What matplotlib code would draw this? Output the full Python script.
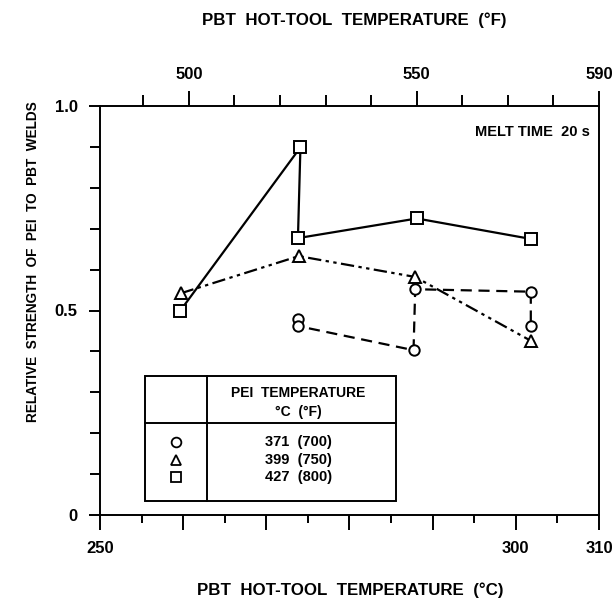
import matplotlib
matplotlib.use("Agg")
import matplotlib.pyplot as plt
from matplotlib.patches import Rectangle
from matplotlib.lines import Line2D
from matplotlib.ticker import FixedLocator, FuncFormatter

plt.rcParams.update({"font.family": ["Liberation Sans", "DejaVu Sans"], "font.size": 10,
                     "font.weight": "bold"})

# PBT hot-tool temperature (degC) and relative weld strength, per PEI temperature
circ_T = [273.8, 273.8, 287.7, 287.9, 301.8, 301.8]
circ_v = [0.478, 0.462, 0.403, 0.552, 0.546, 0.462]
tri_T = [259.7, 273.9, 287.9, 301.8]
tri_v = [0.542, 0.633, 0.582, 0.426]
sq_T = [259.6, 274.1, 273.8, 288.1, 301.8]
sq_v = [0.498, 0.899, 0.677, 0.725, 0.675]

legend_rows = ["371  (700)", "399  (750)", "427  (800)"]
bottom_labels = [250, 300, 310]
top_labels = [500, 550, 590]

fig = plt.figure(figsize=(6.16, 6.03), dpi=100)
ax = fig.add_axes([100 / 616, 88 / 603, 499 / 616, 409 / 603])

mk = dict(mfc="white", mec="black", mew=1.4, color="black", lw=1.6, clip_on=False)
ax.plot(circ_T, circ_v, marker="o", ms=7.5, ls=(0, (5, 3)), **mk)
ax.plot(tri_T, tri_v, marker="^", ms=9, ls=(0, (6, 2, 1.5, 2, 1.5, 2)), **mk)
ax.plot(sq_T, sq_v, marker="s", ms=8.5, ls="-", **mk)

ax.set_xlim(250, 310)
ax.set_ylim(0, 1.0)
for s in ax.spines.values():
    s.set_linewidth(1.4)

ax.xaxis.set_major_locator(FixedLocator(range(250, 311, 10)))
ax.xaxis.set_minor_locator(FixedLocator(range(255, 310, 10)))
ax.xaxis.set_major_formatter(FuncFormatter(lambda v, p: f"{int(round(v))}" if int(round(v)) in bottom_labels else ""))
ax.yaxis.set_major_locator(FixedLocator([0, 0.5, 1.0]))
ax.yaxis.set_minor_locator(FixedLocator([i / 10 for i in range(1, 10) if i != 5]))
ax.yaxis.set_major_formatter(FuncFormatter(lambda v, p: {0: "0", 0.5: "0.5", 1.0: "1.0"}[round(v, 1)]))
ax.tick_params(axis="x", which="major", direction="out", length=11, width=1.4, pad=8, labelsize=12)
ax.tick_params(axis="x", which="minor", direction="out", length=6, width=1.4)
ax.tick_params(axis="y", which="major", direction="out", length=8, width=1.4, pad=8, labelsize=12)
ax.tick_params(axis="y", which="minor", direction="out", length=7, width=1.4)

top = ax.twiny()
top.set_xlim(480.5, 590)
top.xaxis.set_major_locator(FixedLocator(top_labels))
top.xaxis.set_minor_locator(FixedLocator([490, 510, 520, 530, 540, 560, 570, 580]))
top.tick_params(axis="x", which="major", direction="out", length=11, width=1.4, pad=6, labelsize=12)
top.tick_params(axis="x", which="minor", direction="out", length=8, width=1.4)
for s in top.spines.values():
    s.set_visible(False)

ax.text(0.982, 0.936, "MELT TIME  20 s", transform=ax.transAxes, ha="right", va="center", fontsize=10.5)

# legend table
L, D, R = 0.090, 0.214, 0.593
T, H, B = 0.340, 0.224, 0.034
ax.add_patch(Rectangle((L, B), R - L, T - B, transform=ax.transAxes, fill=False, lw=1.4, ec="black"))
ax.add_line(Line2D([D, D], [B, T], transform=ax.transAxes, color="black", lw=1.4))
ax.add_line(Line2D([L, R], [H, H], transform=ax.transAxes, color="black", lw=1.4))
ax.text(0.397, 0.298, "PEI  TEMPERATURE", transform=ax.transAxes, ha="center", va="center", fontsize=10)
ax.text(0.397, 0.251, "°C  (°F)", transform=ax.transAxes, ha="center", va="center", fontsize=10)
for y, m, lab in zip([0.179, 0.134, 0.094], ["o", "^", "s"], legend_rows):
    ax.plot([0.152], [y], marker=m, ms=7, mfc="white", mec="black", mew=1.3, transform=ax.transAxes)
    ax.text(0.397, y, lab, transform=ax.transAxes, ha="center", va="center", fontsize=10.5)

fig.text(354 / 616, 1 - 20 / 603, "PBT  HOT-TOOL  TEMPERATURE  (°F)", ha="center", va="center", fontsize=12.2)
fig.text(350 / 616, 1 - 590 / 603, "PBT  HOT-TOOL  TEMPERATURE  (°C)", ha="center", va="center", fontsize=12.2)
fig.text(33 / 616, 1 - 262 / 603, "RELATIVE  STRENGTH  OF  PEI  TO  PBT  WELDS", ha="center", va="center",
         rotation=90, fontsize=9.8)

fig.savefig("out.png", dpi=100)
